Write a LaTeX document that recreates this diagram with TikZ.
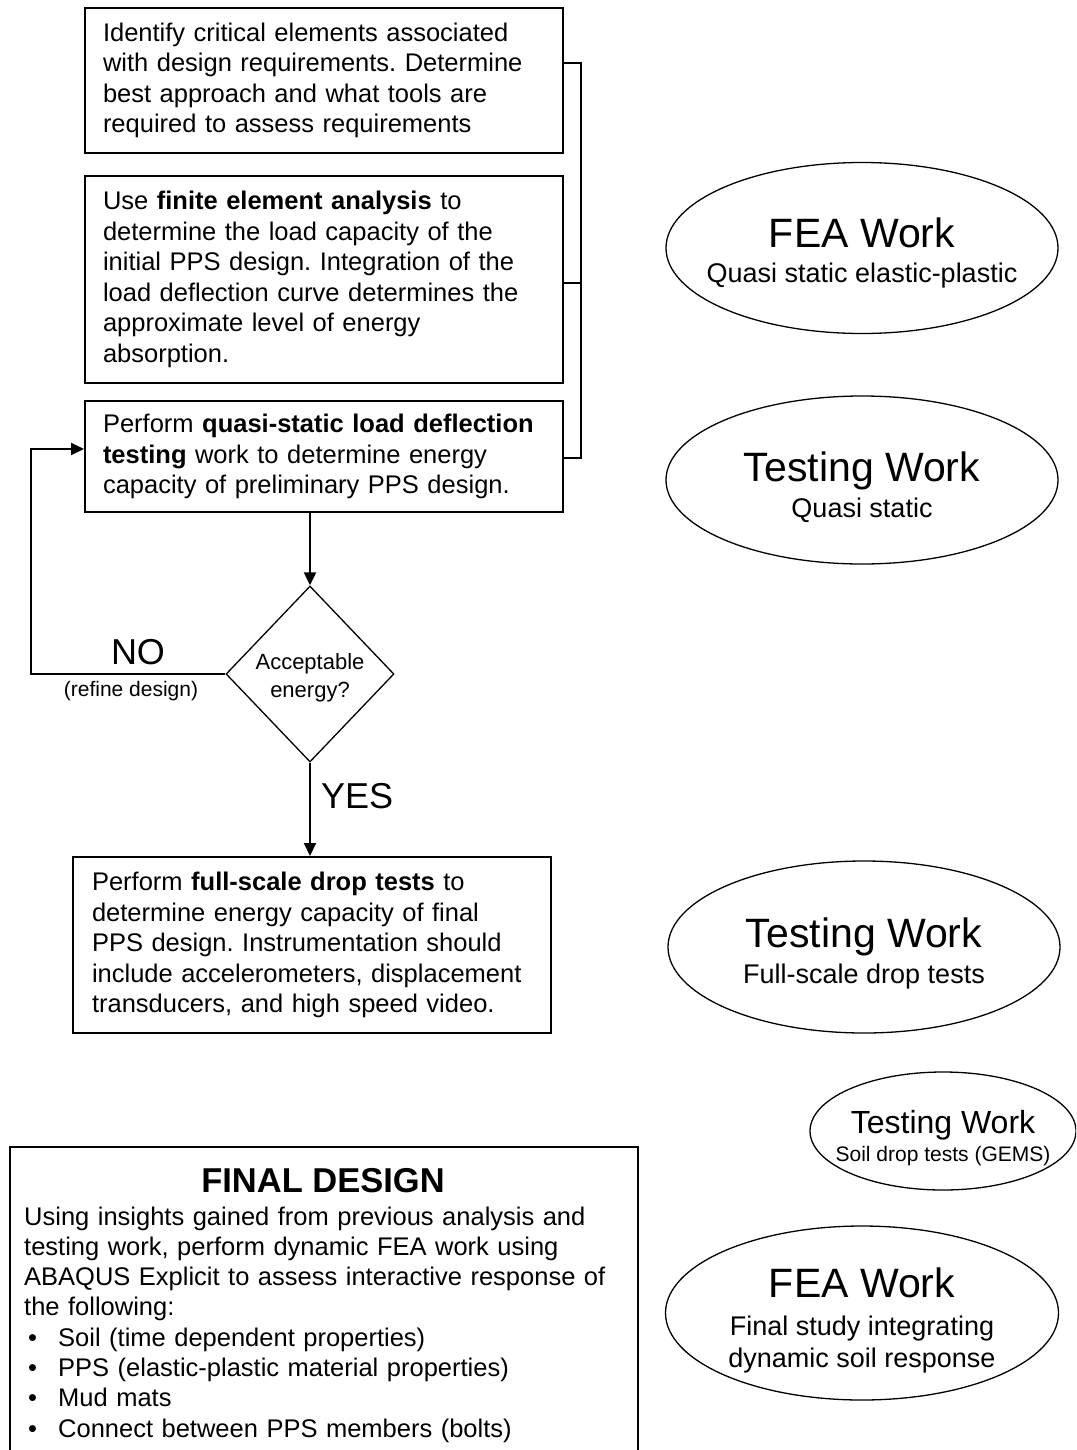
\documentclass[tikz,border=0pt]{standalone}
\usepackage{fontspec}
\setmainfont{Liberation Sans}
\usetikzlibrary{shapes.geometric,arrows.meta,calc}
\newcommand\myfs[2]{\fontsize{#1}{#2}\selectfont}
\frenchspacing
\begin{document}
\frenchspacing
\begin{tikzpicture}[x=1pt,y=-1pt,
  box/.style={draw, line width=2pt, inner xsep=18pt, inner ysep=0pt, text width=442pt, align=left, font=\myfs{25.5}{30.5}\frenchspacing},
  oval/.style={draw, ellipse, line width=1.3pt, inner sep=0pt},
  arr/.style={line width=2pt, -{Triangle[width=12pt,length=13pt]}},
  link/.style={line width=1.8pt},
  big/.style={anchor=base, inner sep=0pt, font=\myfs{41}{46}},
  sub/.style={anchor=base, inner sep=0pt, font=\myfs{27}{32}}]
\useasboundingbox (0,0) rectangle (1076,1450);
\clip (0,0) rectangle (1076,1450);

% left flow boxes
\node[box, minimum height=145pt] (b1) at (324,80.5)
  {Identify critical elements associated\\with design requirements. Determine\\best approach and what tools are\\required to assess requirements};
\node[box, minimum height=207pt] (b2) at (324,279.5)
  {Use \textbf{finite element analysis} to\\determine the load capacity of the\\initial PPS design. Integration of the\\load deflection curve determines the\\approximate level of energy\\absorption.};
\node[box, minimum height=111pt] (b3) at (324,456.5)
  {Perform \textbf{quasi-static load deflection}\\\textbf{testing} work to determine energy\\capacity of preliminary PPS design.};

% bracket on the right
\coordinate (k1) at (581,63);
\coordinate (k2) at (581,283);
\coordinate (k3) at (581,458);
\draw[link] (b1.east |- k1) -- (k1) -- (k3) -- (b3.east |- k3);
\draw[link] (b2.east |- k2) -- (k2);

% decision
\node[diamond, draw, line width=1.3pt, minimum width=168pt, minimum height=176pt, inner sep=0pt] (d) at (310,674) {};
\node[align=center, inner sep=0pt, font=\myfs{22}{28}] (dt) at (310,678) {Acceptable\\energy?};
\draw[arr] (b3.south -| d.north) -- (d.north);
\coordinate (lp) at (31,674);
\draw[arr] (d.west) -- (lp) |- ([yshift=7.5pt]b3.west);
\node[anchor=base, inner sep=0pt, font=\myfs{36}{40}] (no) at (138,664) {NO};
\node[anchor=base, inner sep=0pt, font=\myfs{21}{25}] (refine) at (131,696) {(refine design)};

\node[box, text width=440pt, inner xsep=19pt, minimum height=176pt] (b4) at (312,945)
  {Perform \textbf{full-scale drop tests} to\\determine energy capacity of final\\PPS design. Instrumentation should\\include accelerometers, displacement\\transducers, and high speed video.};
\draw[arr] (d.south) -- (d.south |- b4.north);
\node[anchor=base west, inner sep=0pt, font=\myfs{36}{40}] (yes) at (321,808) {YES};

% ellipses
\node[oval, minimum width=392pt, minimum height=171pt] (e1) at (862,248) {};
\node[big] (e1t) at (862,247) {FEA Work};
\node[sub] (e1s) at (862,282) {Quasi static elastic-plastic};

\node[oval, minimum width=392pt, minimum height=168pt] (e2) at (862,480) {};
\node[big] (e2t) at (862,481) {Testing Work};
\node[sub] (e2s) at (862,517) {Quasi static};

\node[oval, minimum width=392pt, minimum height=172pt] (e3) at (864,947) {};
\node[big] (e3t) at (864,947) {Testing Work};
\node[sub] (e3s) at (864,983) {Full-scale drop tests};

\node[oval, minimum width=266pt, minimum height=118pt] (e4) at (943,1131) {};
\node[anchor=base, inner sep=0pt, font=\myfs{32}{36}] (e4t) at (943,1133) {Testing Work};
\node[anchor=base, inner sep=0pt, font=\myfs{21}{25}] (e4s) at (943,1161) {Soil drop tests (GEMS)};

\node[oval, minimum width=393pt, minimum height=174pt] (e5) at (862,1313) {};
\node[big] (e5t) at (862,1297) {FEA Work};
\node[sub] (e5s) at (862,1335) {Final study integrating};
\node[sub] (e5u) at (862,1367) {dynamic soil response};

% final design box
\node[draw, line width=2pt, minimum width=628pt, minimum height=340pt, anchor=north west, inner sep=0pt] (fb) at (9,1146) {};
\node[anchor=base, inner sep=0pt, font=\bfseries\myfs{34.5}{40}] (ft) at (323,1192) {FINAL DESIGN};
\node[anchor=base west, inner sep=0pt, text width=605pt, align=left, font=\myfs{25.5}{30.3}\frenchspacing] (fbody) at (24,1225)
  {Using insights gained from previous analysis and\\
   testing work, perform dynamic FEA work using\\
   ABAQUS Explicit to assess interactive response of\\
   the following:\\
   \hspace*{4pt}\makebox[30pt][l]{\textbullet}Soil (time dependent properties)\\
   \hspace*{4pt}\makebox[30pt][l]{\textbullet}PPS (elastic-plastic material properties)\\
   \hspace*{4pt}\makebox[30pt][l]{\textbullet}Mud mats\\
   \hspace*{4pt}\makebox[30pt][l]{\textbullet}Connect between PPS members (bolts)};
\end{tikzpicture}
\end{document}
